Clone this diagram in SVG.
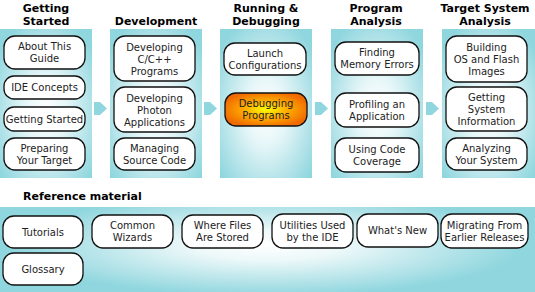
<svg xmlns="http://www.w3.org/2000/svg" width="535" height="292" viewBox="0 0 535 292">
<defs>
<radialGradient id="pg" cx="50%" cy="55%" r="65%">
<stop offset="0" stop-color="#ffffff"/>
<stop offset="0.35" stop-color="#e6f6f8"/>
<stop offset="1" stop-color="#8fd6de"/>
</radialGradient>
<radialGradient id="bg" cx="50%" cy="45%" r="60%" gradientTransform="translate(0.1,0) scale(0.8,1)">
<stop offset="0" stop-color="#ffffff"/>
<stop offset="0.3" stop-color="#ecf8f9"/>
<stop offset="1" stop-color="#8fd6de"/>
</radialGradient>
<radialGradient id="og" cx="50%" cy="50%" r="55%">
<stop offset="0" stop-color="#ffff00"/>
<stop offset="0.45" stop-color="#ffb000"/>
<stop offset="1" stop-color="#f06a00"/>
</radialGradient>
</defs>
<style>
.p{fill:url(#pg)}
.n{fill:#fff;stroke:#111;stroke-width:1.3}
.hl{fill:url(#og);stroke:#111;stroke-width:1.3}
.t{font-family:"DejaVu Sans",Verdana,sans-serif;font-size:10px;fill:#222;text-anchor:middle}
.h{font-family:"DejaVu Sans",Verdana,sans-serif;font-size:11px;font-weight:bold;fill:#000;text-anchor:middle}
.a{fill:#8fd6de}
</style>
<g id="panels">
<rect class="p" x="0" y="29" width="92" height="149"/>
<rect class="p" x="110" y="29" width="92" height="149"/>
<rect class="p" x="220" y="29" width="92" height="149"/>
<rect class="p" x="331" y="29" width="92" height="149"/>
<rect class="p" x="442" y="29" width="93" height="149"/>
<rect fill="url(#bg)" x="0" y="207" width="535" height="85"/>
</g>
<g id="headers">
<text class="h" x="46" y="12">Getting</text>
<text class="h" x="46" y="25">Started</text>
<text class="h" x="156" y="25">Development</text>
<text class="h" x="266" y="12">Running &amp;</text>
<text class="h" x="266" y="25">Debugging</text>
<text class="h" x="376" y="12">Program</text>
<text class="h" x="376" y="25">Analysis</text>
<text class="h" x="485" y="12">Target System</text>
<text class="h" x="485" y="25">Analysis</text>
<text class="h" x="23" y="200" style="text-anchor:start">Reference material</text>
</g>
<g id="connectors">
<polygon class="a" points="94,102 100,102 107,108.5 100,115 94,115"/>
<polygon class="a" points="204,102 210,102 217,108.5 210,115 204,115"/>
<polygon class="a" points="315,102 321,102 328,108.5 321,115 315,115"/>
<polygon class="a" points="426,102 432,102 439,108.5 432,115 426,115"/>
</g>
<g id="n-about"><rect class="n" x="4" y="36" width="81" height="33" rx="11"/><text class="t" x="44.5" y="50">About This</text><text class="t" x="44.5" y="62">Guide</text></g>
<g id="n-ide"><rect class="n" x="4" y="76" width="81" height="23" rx="10"/><text class="t" x="44.5" y="91">IDE Concepts</text></g>
<g id="n-getting"><rect class="n" x="4" y="107" width="81" height="24" rx="10"/><text class="t" x="44.5" y="122.5">Getting Started</text></g>
<g id="n-preparing"><rect class="n" x="4" y="138" width="81" height="32" rx="11"/><text class="t" x="44.5" y="152">Preparing</text><text class="t" x="44.5" y="164">Your Target</text></g>

<g id="n-cpp"><rect class="n" x="114" y="36" width="81" height="45" rx="11"/><text class="t" x="154.5" y="50.5">Developing</text><text class="t" x="154.5" y="62.5">C/C++</text><text class="t" x="154.5" y="74.5">Programs</text></g>
<g id="n-photon"><rect class="n" x="114" y="87" width="81" height="45" rx="11"/><text class="t" x="154.5" y="101.5">Developing</text><text class="t" x="154.5" y="113.5">Photon</text><text class="t" x="154.5" y="125.5">Applications</text></g>
<g id="n-managing"><rect class="n" x="114" y="138" width="81" height="32" rx="11"/><text class="t" x="154.5" y="152">Managing</text><text class="t" x="154.5" y="164">Source Code</text></g>

<g id="n-launch"><rect class="n" x="224" y="43" width="82" height="32" rx="11"/><text class="t" x="265" y="57">Launch</text><text class="t" x="265" y="69">Configurations</text></g>
<g id="n-debugging"><rect class="hl" x="225" y="93" width="82" height="33" rx="11"/><text class="t" x="266" y="107">Debugging</text><text class="t" x="266" y="119">Programs</text></g>

<g id="n-memory"><rect class="n" x="335" y="42" width="84" height="33" rx="11"/><text class="t" x="377" y="56">Finding</text><text class="t" x="377" y="68">Memory Errors</text></g>
<g id="n-profiling"><rect class="n" x="335" y="93" width="84" height="34" rx="11"/><text class="t" x="377" y="107.5">Profiling an</text><text class="t" x="377" y="119.5">Application</text></g>
<g id="n-coverage"><rect class="n" x="335" y="138" width="84" height="34" rx="11"/><text class="t" x="377" y="152.5">Using Code</text><text class="t" x="377" y="164.5">Coverage</text></g>

<g id="n-building"><rect class="n" x="446" y="36" width="81" height="46" rx="11"/><text class="t" x="486.5" y="51">Building</text><text class="t" x="486.5" y="63">OS and Flash</text><text class="t" x="486.5" y="75">Images</text></g>
<g id="n-sysinfo"><rect class="n" x="446" y="87" width="81" height="44" rx="11"/><text class="t" x="486.5" y="101">Getting</text><text class="t" x="486.5" y="113">System</text><text class="t" x="486.5" y="125">Information</text></g>
<g id="n-analyzing"><rect class="n" x="446" y="138" width="81" height="32" rx="11"/><text class="t" x="486.5" y="152">Analyzing</text><text class="t" x="486.5" y="164">Your System</text></g>

<g id="n-tutorials"><rect class="n" x="3" y="216" width="80" height="32" rx="11"/><text class="t" x="43" y="235.5">Tutorials</text></g>
<g id="n-wizards"><rect class="n" x="92" y="215" width="81" height="33" rx="11"/><text class="t" x="132.5" y="229">Common</text><text class="t" x="132.5" y="241">Wizards</text></g>
<g id="n-files"><rect class="n" x="182" y="215" width="81" height="33" rx="11"/><text class="t" x="222.5" y="229">Where Files</text><text class="t" x="222.5" y="241">Are Stored</text></g>
<g id="n-utilities"><rect class="n" x="272" y="214" width="81" height="34" rx="11"/><text class="t" x="312.5" y="228.5">Utilities Used</text><text class="t" x="312.5" y="240.5">by the IDE</text></g>
<g id="n-whatsnew"><rect class="n" x="357" y="214" width="81" height="33" rx="11"/><text class="t" x="397.5" y="234">What's New</text></g>
<g id="n-migrating"><rect class="n" x="441" y="214" width="87" height="34" rx="11"/><text class="t" x="484.5" y="228.5">Migrating From</text><text class="t" x="484.5" y="240.5">Earlier Releases</text></g>
<g id="n-glossary"><rect class="n" x="3" y="253" width="80" height="32" rx="11"/><text class="t" x="43" y="272.5">Glossary</text></g>
</svg>
